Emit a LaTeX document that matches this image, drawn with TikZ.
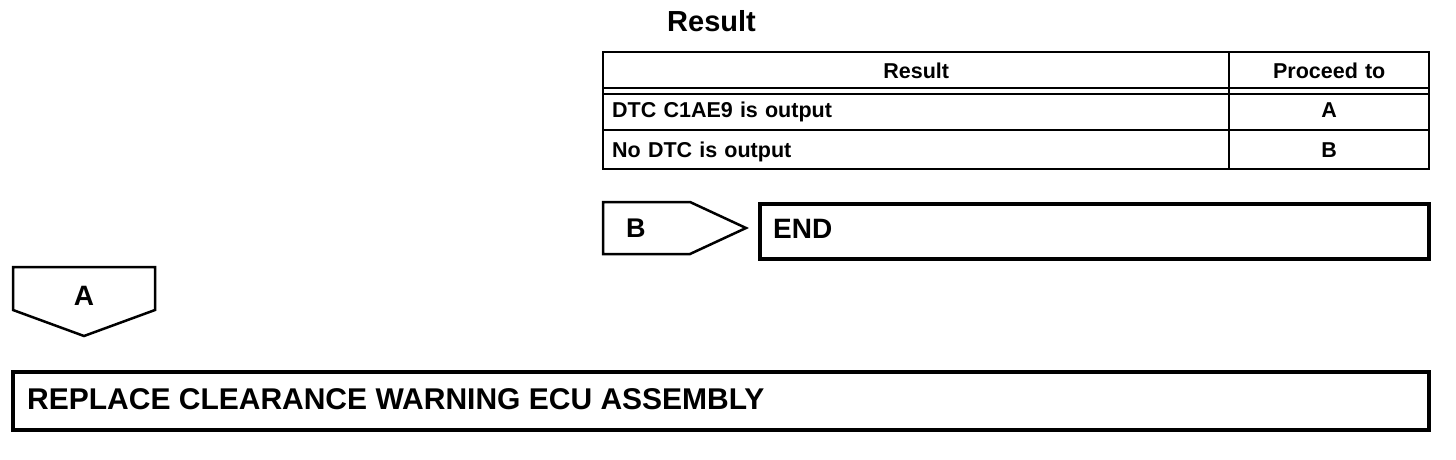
\documentclass[tikz,border=0pt]{standalone}
\usepackage{fontspec}
\setmainfont{Liberation Sans}
\usepackage{tikz}
\usetikzlibrary{matrix}

\begin{document}
\begin{tikzpicture}[x=1pt,y=1pt,
  boxtext/.style={font=\bfseries\fontsize{#1}{#1}\selectfont, inner sep=0pt, anchor=west},
  stepframe/.style={draw, line width=3.5pt},
  tag/.style={draw, line width=2.5pt, line join=miter}]
\useasboundingbox (0,0) rectangle (1456,-460);
\node[boxtext=29] (title) at (667,-21) {Result};
\matrix[matrix of nodes, anchor=north west, inner sep=0pt, nodes={draw, anchor=center, line width=2pt, inner xsep=9pt, inner ysep=0pt, text height=18pt, text depth=2pt, font=\bfseries\fontsize{21.5}{21.5}\selectfont},
  column sep=-2pt, row sep=-2pt,
  column 1/.style={nodes={minimum width=626pt, text width=608pt, align=left}},
  column 2/.style={nodes={minimum width=200pt, text width=182pt, align=center}},
  row 1/.style={nodes={minimum height=36pt}},
  row 2/.style={nodes={minimum height=42pt}},
  row 3/.style={nodes={minimum height=39pt}}] (R) at (602,-51) {
 |[align=center]| Result & Proceed to \\
 DTC C1AE9 is output & A \\
 No DTC is output & B \\
};
\draw[line width=2pt] ([yshift=-5pt]R-1-1.south west) -- ([yshift=-5pt]R-1-2.south east);
\draw[tag] (603,-202) -- (690,-202) -- (746,-228) -- (690,-254) -- (603,-254) -- cycle;
\node[boxtext=27] (tagB) at (626,-228) {B};
\draw[stepframe] (760,-204) rectangle (1429,-259);
\node[boxtext=28] (finish) at (773,-229) {END};
\draw[tag] (13,-267) -- (155,-267) -- (155,-310) -- (84,-336) -- (13,-310) -- cycle;
\node[boxtext=28, anchor=center] (tagA) at (84,-296) {A};
\draw[stepframe] (13,-372) rectangle (1429,-430);
\node[boxtext=30] (replace) at (27,-399) {REPLACE CLEARANCE WARNING ECU ASSEMBLY};
\end{tikzpicture}
\end{document}
